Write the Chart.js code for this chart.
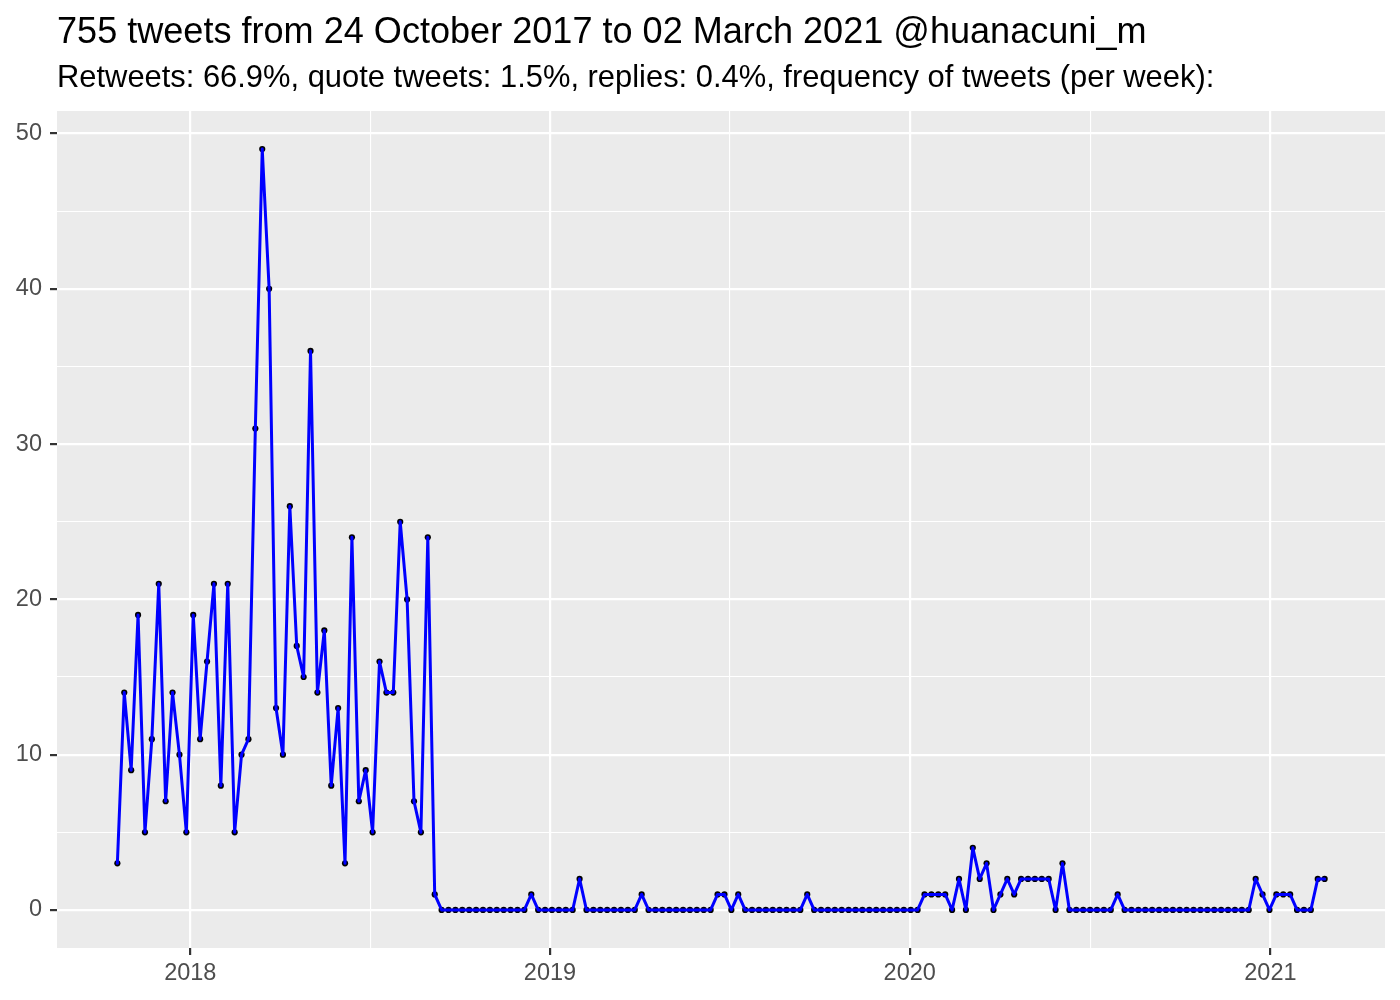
<!DOCTYPE html>
<html>
<head>
<meta charset="utf-8">
<title>Tweets por semana</title>
<script src="https://cdn.jsdelivr.net/npm/chart.js@4/dist/chart.umd.min.js"></script>
<style>
  body { margin: 0; background: #fff; }
  canvas { display: block; }
</style>
</head>
<body>
<canvas id="graficoTweets" width="1400" height="1000"></canvas>
<script>
// data da primeira semana; cada valor seguinte é a semana seguinte (7 dias depois)
const inicioSemanas = "2017-10-19";

// quantidade de tweets em cada semana
const tweetsPorSemana = [
  3, 14, 9, 19, 5, 11, 21, 7, 14, 10,
  5, 19, 11, 16, 21, 8, 21, 5, 10, 11,
  31, 49, 40, 13, 10, 26, 17, 15, 36, 14,
  18, 8, 13, 3, 24, 7, 9, 5, 16, 14,
  14, 25, 20, 7, 5, 24, 1, 0, 0, 0,
  0, 0, 0, 0, 0, 0, 0, 0, 0, 0,
  1, 0, 0, 0, 0, 0, 0, 2, 0, 0,
  0, 0, 0, 0, 0, 0, 1, 0, 0, 0,
  0, 0, 0, 0, 0, 0, 0, 1, 1, 0,
  1, 0, 0, 0, 0, 0, 0, 0, 0, 0,
  1, 0, 0, 0, 0, 0, 0, 0, 0, 0,
  0, 0, 0, 0, 0, 0, 0, 1, 1, 1,
  1, 0, 2, 0, 4, 2, 3, 0, 1, 2,
  1, 2, 2, 2, 2, 2, 0, 3, 0, 0,
  0, 0, 0, 0, 0, 1, 0, 0, 0, 0,
  0, 0, 0, 0, 0, 0, 0, 0, 0, 0,
  0, 0, 0, 0, 0, 2, 1, 0, 1, 1,
  1, 0, 0, 0, 2, 2
];

// legendas dos eixos
const anosEixoX = [2018, 2019, 2020, 2021];
const marcasEixoY = [0, 10, 20, 30, 40, 50];

const titulo = "755 tweets from 24 October 2017 to 02 March 2021 @huanacuni_m";
const subtitulo = "Retweets: 66.9%, quote tweets: 1.5%, replies: 0.4%, frequency of tweets (per week):";

const fonte = "'Liberation Sans', Arial, Helvetica, sans-serif";
const umDia = 24 * 60 * 60 * 1000;

// transforma cada semana em um ponto {x: data em ms, y: tweets}
const inicio = Date.parse(inicioSemanas + "T00:00:00Z");
const pontos = tweetsPorSemana.map((valor, i) => ({ x: inicio + i * 7 * umDia, y: valor }));

// folga de 5% nas pontas, como no ggplot
const primeiro = pontos[0].x;
const ultimo = pontos[pontos.length - 1].x;
const folgaX = (ultimo - primeiro) * 0.05;
const maiorValor = Math.max(...tweetsPorSemana);
const folgaY = maiorValor * 0.05;

function inicioDoAno(ano) {
  return Date.UTC(ano, 0, 1);
}

// marcas do eixo x: 1º de janeiro (principal) e meio do ano (só a linha clara)
function marcasX() {
  const marcas = [];
  anosEixoX.forEach((ano) => {
    marcas.push({ value: inicioDoAno(ano), major: true });
    const meio = (inicioDoAno(ano) + inicioDoAno(ano + 1)) / 2;
    if (meio < ultimo + folgaX) marcas.push({ value: meio, major: false });
  });
  return marcas;
}

// marcas do eixo y: as de 10 em 10 e as intermediárias
function marcasY() {
  const marcas = [];
  marcasEixoY.forEach((valor, i) => {
    marcas.push({ value: valor, major: true });
    if (i < marcasEixoY.length - 1) {
      marcas.push({ value: (valor + marcasEixoY[i + 1]) / 2, major: false });
    }
  });
  return marcas;
}

// grade branca: linha grossa nas principais, fina nas intermediárias
const grade = {
  color: "#FFFFFF",
  lineWidth: (ctx) => (ctx.tick && ctx.tick.major ? 2.2 : 1.1),
  drawTicks: true,
  tickLength: 7,
  tickWidth: 2.2,
  tickColor: (ctx) => (ctx.tick && ctx.tick.major ? "#333333" : "rgba(0,0,0,0)")
};

// pinta o fundo cinza do painel
const fundoCinza = {
  id: "fundoCinza",
  beforeDraw(chart) {
    const { ctx, chartArea } = chart;
    ctx.save();
    ctx.fillStyle = "#EBEBEB";
    ctx.fillRect(chartArea.left, chartArea.top, chartArea.right - chartArea.left, chartArea.bottom - chartArea.top);
    ctx.restore();
  }
};

// título e subtítulo alinhados com a esquerda do painel
const titulos = {
  id: "titulos",
  afterDraw(chart) {
    const { ctx, chartArea } = chart;
    ctx.save();
    ctx.fillStyle = "#000000";
    ctx.textAlign = "left";
    ctx.textBaseline = "alphabetic";
    ctx.font = "36.1px " + fonte;
    ctx.fillText(titulo, chartArea.left, 43);
    ctx.font = "30.9px " + fonte;
    ctx.fillText(subtitulo, chartArea.left, 87);
    ctx.restore();
  }
};

const graficoTweets = document.getElementById("graficoTweets");

const graficoParaTweets = new Chart(graficoTweets, {
  type: "line",
  data: {
    datasets: [
      {
        label: "linha",
        data: pontos,
        borderColor: "#0000FF",
        borderWidth: 3,
        borderJoinStyle: "round",
        borderCapStyle: "round",
        pointRadius: 0,
        fill: false,
        tension: 0,
        order: 0
      },
      {
        label: "pontos",
        data: pontos,
        showLine: false,
        pointRadius: 3.1,
        pointBackgroundColor: "#000000",
        pointBorderWidth: 0,
        order: 1
      }
    ]
  },
  options: {
    responsive: false,
    animation: false,
    devicePixelRatio: 1,
    layout: { padding: { top: 111, right: 15, left: 0, bottom: 0 } },
    plugins: {
      legend: { display: false },
      tooltip: { enabled: false }
    },
    scales: {
      x: {
        type: "linear",
        min: primeiro - folgaX,
        max: ultimo + folgaX,
        border: { display: false },
        grid: grade,
        afterBuildTicks: (eixo) => { eixo.ticks = marcasX(); },
        afterFit: (eixo) => { eixo.height = 52; },
        ticks: {
          autoSkip: false,
          maxRotation: 0,
          padding: 4,
          color: "#4D4D4D",
          font: { family: fonte, size: 23.5 },
          callback: (valor) => {
            const data = new Date(valor);
            return data.getUTCMonth() === 0 && data.getUTCDate() === 1 ? String(data.getUTCFullYear()) : "";
          }
        }
      },
      y: {
        type: "linear",
        min: -folgaY,
        max: maiorValor + folgaY,
        border: { display: false },
        grid: grade,
        afterBuildTicks: (eixo) => { eixo.ticks = marcasY(); },
        afterFit: (eixo) => { eixo.width = 57; },
        ticks: {
          autoSkip: false,
          padding: 8,
          color: "#4D4D4D",
          font: { family: fonte, size: 23.5 },
          callback: (valor) => (marcasEixoY.includes(valor) ? String(valor) : "")
        }
      }
    }
  },
  plugins: [fundoCinza, titulos]
});
</script>
</body>
</html>
